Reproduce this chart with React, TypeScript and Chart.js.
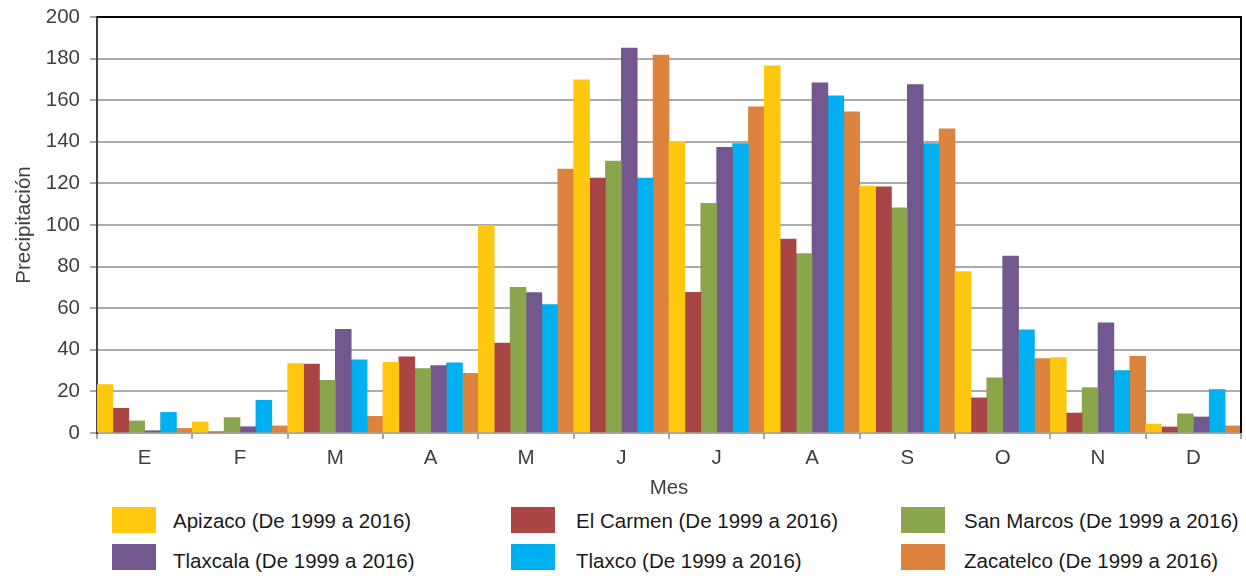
import React, { useEffect, useRef } from "react";
import { Chart, registerables } from "chart.js";

Chart.register(...registerables);

const months = ["E", "F", "M", "A", "M", "J", "J", "A", "S", "O", "N", "D"];
const apizaco = [23.3, 5.3, 33.4, 34.0, 99.8, 169.8, 140.2, 176.5, 118.7, 77.6, 36.3, 4.3];
const elCarmen = [11.9, 0.6, 33.1, 36.6, 43.2, 122.6, 67.6, 93.2, 118.4, 16.9, 9.6, 2.9];
const sanMarcos = [5.8, 7.4, 25.3, 31.0, 70.0, 130.7, 110.4, 86.3, 108.2, 26.5, 21.8, 9.2];
const tlaxcala = [1.1, 3.0, 49.8, 32.4, 67.5, 185.1, 137.3, 168.3, 167.5, 85.0, 53.0, 7.7];
const tlaxco = [9.9, 15.7, 35.2, 33.7, 61.7, 122.6, 139.1, 162.1, 139.1, 49.6, 30.0, 20.9];
const zacatelco = [2.2, 3.4, 8.0, 28.7, 126.9, 181.7, 156.8, 154.4, 146.2, 35.8, 36.9, 3.4];

const seriesNames = [
  "Apizaco (De 1999 a 2016)",
  "El Carmen (De 1999 a 2016)",
  "San Marcos (De 1999 a 2016)",
  "Tlaxcala (De 1999 a 2016)",
  "Tlaxco (De 1999 a 2016)",
  "Zacatelco (De 1999 a 2016)",
];
const seriesValues = [apizaco, elCarmen, sanMarcos, tlaxcala, tlaxco, zacatelco];
const seriesColors = ["#FFC80F", "#A94544", "#8BA54D", "#72588E", "#00B0F0", "#DC843E"];

const Y_MIN = 0;
const Y_MAX = 200;
const Y_STEP = 20;

const FONT = "'Liberation Sans', Arial, sans-serif";
const FS = 20.5;

// legend layout (row-wise, 3 columns)
const legendBoxLeft = [112, 511, 901];
const legendTextLeft = [173, 576, 964];
const legendBoxTop = [507, 544];
const legendTextTop = [511, 551];

const framePlugin = {
  id: "frame",
  afterDraw(chart: any) {
    const { ctx, chartArea } = chart;
    const { left, right, top, bottom } = chartArea;
    ctx.save();
    ctx.strokeStyle = "#000";
    ctx.lineWidth = 2;
    ctx.beginPath();
    ctx.moveTo(left, top);
    ctx.lineTo(right, top);
    ctx.lineTo(right, bottom);
    ctx.stroke();
    ctx.restore();
  },
};

export default function App() {
  const ref = useRef<HTMLCanvasElement | null>(null);

  useEffect(() => {
    if (!ref.current) return;
    const chart = new Chart(ref.current, {
      type: "bar",
      data: {
        labels: months,
        datasets: seriesNames.map((name, i) => ({
          label: name,
          data: seriesValues[i],
          backgroundColor: seriesColors[i],
          borderWidth: 0,
          barPercentage: 1,
          categoryPercentage: 1,
        })),
      },
      options: {
        responsive: false,
        animation: false,
        layout: { padding: { left: 0, right: 5, top: 17, bottom: 0 } },
        plugins: {
          legend: { display: false },
          tooltip: { enabled: false },
        },
        scales: {
          x: {
            grid: {
              display: true,
              drawOnChartArea: false,
              drawTicks: true,
              tickLength: 6,
              color: "#a6a6a6",
              lineWidth: 2,
              offset: true,
            },
            border: { display: true, color: "#a6a6a6", width: 2 },
            ticks: {
              color: "#404040",
              font: { size: FS, family: FONT },
              padding: 7,
              maxRotation: 0,
              autoSkip: false,
            },
            title: {
              display: true,
              text: "Mes",
              color: "#404040",
              font: { size: FS, family: FONT },
              padding: { top: 4, bottom: 4 },
            },
            afterFit(s: any) {
              s.height = 72;
              s.paddingLeft = 0;
              s.paddingRight = 0;
            },
          },
          y: {
            min: Y_MIN,
            max: Y_MAX,
            ticks: {
              stepSize: Y_STEP,
              color: "#404040",
              font: { size: FS, family: FONT },
              padding: 10,
            },
            grid: { color: "#ababab", lineWidth: 2, tickLength: 7 },
            border: { display: true, color: "#404040", width: 2 },
            title: {
              display: true,
              text: "Precipitación",
              color: "#404040",
              font: { size: FS, family: FONT },
              padding: { top: 12, bottom: 4 },
            },
            afterFit(s: any) {
              s.width = 97;
              s.paddingTop = 0;
              s.paddingBottom = 0;
            },
          },
        },
      },
      plugins: [framePlugin],
    });
    return () => chart.destroy();
  }, []);

  return (
    <div
      style={{
        position: "fixed",
        left: 0,
        top: 0,
        width: 1246,
        height: 576,
        background: "#fff",
        overflow: "hidden",
      }}
    >
      <canvas ref={ref} width={1246} height={505} style={{ display: "block" }} />
      {seriesNames.map((name, i) => {
        const row = Math.floor(i / 3);
        const col = i % 3;
        return (
          <React.Fragment key={name}>
            <div
              style={{
                position: "absolute",
                left: legendBoxLeft[col],
                top: legendBoxTop[row],
                width: 44,
                height: 26,
                background: seriesColors[i],
              }}
            />
            <span
              style={{
                position: "absolute",
                left: legendTextLeft[col],
                top: legendTextTop[row],
                fontFamily: FONT,
                fontSize: FS,
                lineHeight: "20px",
                color: "#1a1a1a",
                whiteSpace: "nowrap",
              }}
            >
              {name}
            </span>
          </React.Fragment>
        );
      })}
    </div>
  );
}
